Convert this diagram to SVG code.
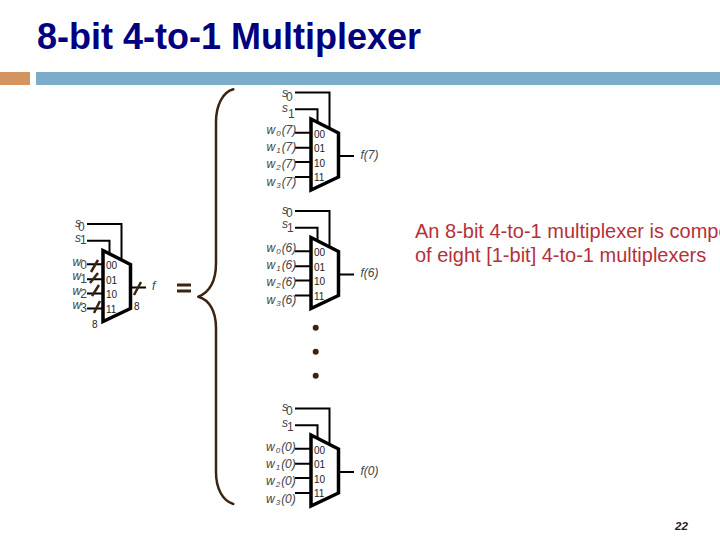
<svg xmlns="http://www.w3.org/2000/svg" width="720" height="540" viewBox="0 0 720 540">
<style>
text{font-family:"Liberation Sans",Arial,sans-serif}
.title{font-size:36px;font-weight:bold;fill:#000080}
.note{font-size:20px;fill:#b5303a}
.pg{font-size:11.500px;font-weight:bold;font-style:italic;fill:#2a2018}
.lab{font-size:12px;font-style:italic;fill:#444}
.sub{font-size:8px}
.big{font-size:12px;font-style:normal}
.num{font-size:10px;fill:#222}
.w{fill:none;stroke:#000;stroke-width:2}
.mux{fill:#fff;stroke:#000;stroke-width:3.500}
.br{fill:none;stroke:#3b2412;stroke-width:2.500;stroke-linecap:round;stroke-linejoin:round}
.sl{stroke:#3b2412;stroke-width:2.500;fill:none}
</style>
<defs>
<g id="m">
<path class="w" d="M-16 -26.500H18.500V9M-16 -9.700H6.500V3M-16 13.700H0M-16 28.700H0M-16 43H0M-16 58H0M27.500 37H43"/>
<polygon class="mux" points="0,0 27.500,14 27.500,58 0,71"/>
<text class="num" x="3" y="18.500">00</text>
<text class="num" x="3" y="33">01</text>
<text class="num" x="3" y="47.500">10</text>
<text class="num" x="3" y="62">11</text>
</g>
</defs>
<rect id="bar-a" x="0" y="72" width="30" height="13" fill="#d49460"/>
<rect id="bar-b" x="36" y="72" width="684" height="13" fill="#7bacca"/>
<text class="title" x="37" y="49">8-bit 4-to-1 Multiplexer</text>

<g id="mux-7">
<use href="#m" x="311" y="119"/>
<text class="lab" x="282" y="97">s<tspan class="big" dx="-2" dy="4">0</tspan></text>
<text class="lab" x="282" y="112">s<tspan class="big" dy="6">1</tspan></text>
<text class="lab" x="266.500" y="134">w<tspan class="sub" dx="1" dy="2">0</tspan><tspan dx="1" dy="-2">(7)</tspan></text>
<text class="lab" x="266.500" y="151">w<tspan class="sub" dx="1" dy="2">1</tspan><tspan dx="1" dy="-2">(7)</tspan></text>
<text class="lab" x="266.500" y="168">w<tspan class="sub" dx="1" dy="2">2</tspan><tspan dx="1" dy="-2">(7)</tspan></text>
<text class="lab" x="266.500" y="186">w<tspan class="sub" dx="1" dy="2">3</tspan><tspan dx="1" dy="-2">(7)</tspan></text>
<text class="lab" x="360.500" y="159">f(7)</text>
</g>
<g id="mux-6">
<use href="#m" x="311" y="237.500"/>
<text class="lab" x="282" y="214">s<tspan class="big" dx="-2" dy="3">0</tspan></text>
<text class="lab" x="282" y="228">s<tspan class="big" dx="-1" dy="4">1</tspan></text>
<text class="lab" x="266.500" y="252">w<tspan class="sub" dx="1" dy="2">0</tspan><tspan dx="1" dy="-2">(6)</tspan></text>
<text class="lab" x="266.500" y="269">w<tspan class="sub" dx="1" dy="2">1</tspan><tspan dx="1" dy="-2">(6)</tspan></text>
<text class="lab" x="266.500" y="286">w<tspan class="sub" dx="1" dy="2">2</tspan><tspan dx="1" dy="-2">(6)</tspan></text>
<text class="lab" x="266.500" y="304">w<tspan class="sub" dx="1" dy="2">3</tspan><tspan dx="1" dy="-2">(6)</tspan></text>
<text class="lab" x="360.500" y="277">f(6)</text>
</g>
<g id="mux-0">
<use href="#m" x="311" y="435"/>
<text class="lab" x="282" y="411">s<tspan class="big" dx="-2" dy="4">0</tspan></text>
<text class="lab" x="282" y="427">s<tspan class="big" dx="-1" dy="4">1</tspan></text>
<text class="lab" x="266" y="451">w<tspan class="sub" dx="1" dy="2">0</tspan><tspan dx="1" dy="-2">(0)</tspan></text>
<text class="lab" x="266" y="468">w<tspan class="sub" dx="1" dy="2">1</tspan><tspan dx="1" dy="-2">(0)</tspan></text>
<text class="lab" x="266" y="485">w<tspan class="sub" dx="1" dy="2">2</tspan><tspan dx="1" dy="-2">(0)</tspan></text>
<text class="lab" x="266" y="503">w<tspan class="sub" dx="1" dy="2">3</tspan><tspan dx="1" dy="-2">(0)</tspan></text>
<text class="lab" x="360.500" y="475">f(0)</text>
</g>
<g id="mux-main">
<use href="#m" x="103" y="250.500"/>
<text class="lab" x="75" y="227">s<tspan class="big" dx="-3" dy="4">0</tspan></text>
<text class="lab" x="75" y="242">s<tspan class="big" dx="-1" dy="2">1</tspan></text>
<text class="lab" x="72.500" y="266">w<tspan class="big" dx="-1" dy="3">0</tspan></text>
<text class="lab" x="72.500" y="280">w<tspan class="big" dx="-1" dy="3">1</tspan></text>
<text class="lab" x="72.500" y="295">w<tspan class="big" dx="-1" dy="3">2</tspan></text>
<text class="lab" x="72.500" y="309">w<tspan class="big" dx="-1" dy="3">3</tspan></text>
<text class="lab" x="152" y="290" font-size="10">f</text>
<text class="num" x="92" y="328">8</text>
<text class="num" x="134" y="310">8</text>
<path class="sl" d="M91 272L98 260M90 283L98 273M92 296L99 285M94 313L100 301M134 295L141 282"/>
</g>
<g id="connectors">
<path class="br" d="M233.300 89.300C223 92 216 105 216 122V263C216 280 210 292 198.300 296.700C210 300 216 312 216 328V472C216 489 223 501 233.300 504"/>
<path d="M177 283.500H191V286.500H177ZM177 289.500H191V292.500H177Z" fill="#3b2412"/>
<circle cx="315.700" cy="327.700" r="3" fill="#3b2412"/>
<circle cx="315.700" cy="351.700" r="3" fill="#3b2412"/>
<circle cx="315.700" cy="375.700" r="3" fill="#3b2412"/>
</g>
<text class="note" x="415" y="238">An 8-bit 4-to-1 multiplexer is compo</text>
<text class="note" x="415" y="262">of eight [1-bit] 4-to-1 multiplexers</text>
<text class="pg" x="675" y="530">22</text>
</svg>
